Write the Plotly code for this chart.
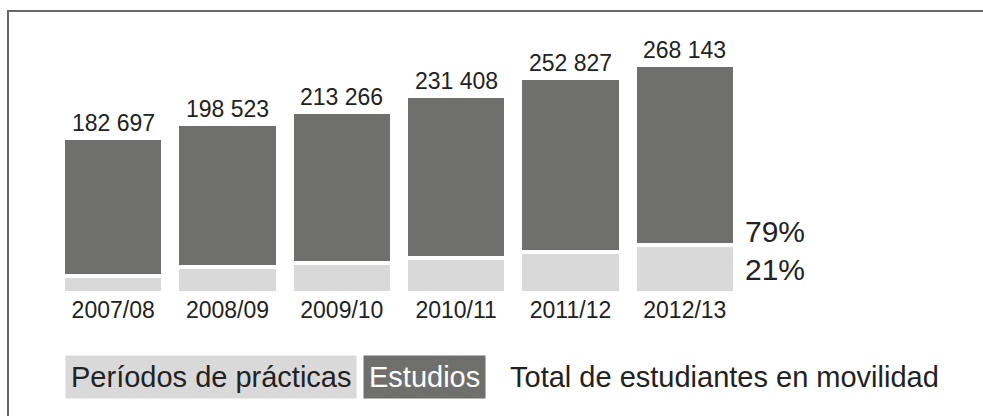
import plotly.graph_objects as go

years = ["2007/08", "2008/09", "2009/10", "2010/11", "2011/12", "2012/13"]
totals = [182697, 198523, 213266, 231408, 252827, 268143]
practicas = [20000, 30000, 35600, 40900, 48300, 56100]
estudios = [t - p for t, p in zip(totals, practicas)]
share_labels = ["79%", "21%"]
legend_labels = ["Períodos de prácticas", "Estudios", "Total de estudiantes en movilidad"]

DARK = "#6f6f6d"
LIGHT = "#d9d9d9"
TEXT = "#222222"
FONT = "Liberation Sans, Arial, sans-serif"

W, H = 983, 416
ML, MR, MT, MB = 56, 241, 20, 123
PW, PH = W - ML - MR, H - MT - MB
YMAX = 321000


def px_x(x):
    return (x - ML) / PW


def px_y(y):
    return (H - MB - y) / PH


fig = go.Figure()
fig.add_trace(go.Bar(x=years, y=practicas, name=legend_labels[0],
                     marker=dict(color=LIGHT, line=dict(color="white", width=4)),
                     hoverinfo="skip"))
fig.add_trace(go.Bar(x=years, y=estudios, name=legend_labels[1],
                     marker=dict(color=DARK, line=dict(color="white", width=4)),
                     hoverinfo="skip"))

annotations = []
for yr, t in zip(years, totals):
    annotations.append(dict(x=yr, y=t, xref="x", yref="y", text=f"{t:,}".replace(",", " "),
                            showarrow=False, yanchor="bottom", xanchor="center", yshift=0,
                            font=dict(size=23, color=TEXT, family=FONT)))

annotations.append(dict(x=1, y=practicas[-1], xref="paper", yref="y", text=share_labels[0],
                        showarrow=False, xanchor="left", yanchor="bottom", xshift=1, yshift=-5,
                        font=dict(size=30, color=TEXT, family=FONT)))
annotations.append(dict(x=1, y=practicas[-1] / 2, xref="paper", yref="y", text=share_labels[1],
                        showarrow=False, xanchor="left", yanchor="middle", xshift=1,
                        font=dict(size=30, color=TEXT, family=FONT)))

leg_y = px_y(377)
annotations.append(dict(x=px_x(65), y=leg_y, xref="paper", yref="paper", text=legend_labels[0],
                        showarrow=False, xanchor="left", yanchor="middle", bgcolor=LIGHT, borderpad=5,
                        font=dict(size=29, color=TEXT, family=FONT)))
annotations.append(dict(x=px_x(363), y=leg_y, xref="paper", yref="paper", text=legend_labels[1],
                        showarrow=False, xanchor="left", yanchor="middle", bgcolor=DARK, borderpad=5,
                        font=dict(size=29, color="white", family=FONT)))
annotations.append(dict(x=px_x(504), y=leg_y, xref="paper", yref="paper", text=legend_labels[2],
                        showarrow=False, xanchor="left", yanchor="middle", borderpad=5,
                        font=dict(size=29, color=TEXT, family=FONT)))

shapes = [dict(type="rect", xref="paper", yref="paper",
               x0=px_x(8), x1=px_x(1100), y0=px_y(500), y1=px_y(11),
               line=dict(color="#666666", width=2), fillcolor="rgba(0,0,0,0)", layer="below")]

fig.update_layout(
    width=W, height=H,
    margin=dict(l=ML, r=MR, t=MT, b=MB, pad=0),
    barmode="stack", bargap=0.125,
    showlegend=False,
    plot_bgcolor="white", paper_bgcolor="white",
    font=dict(family=FONT, color=TEXT),
    annotations=annotations, shapes=shapes,
    xaxis=dict(showgrid=False, zeroline=False, showline=False, ticks="",
               tickfont=dict(size=23, color=TEXT, family=FONT), range=[-0.5, 5.5],
               ticklabelstandoff=1),
    yaxis=dict(visible=False, range=[0, YMAX], showgrid=False, zeroline=False),
)

fig.write_html("out.html", config={"displayModeBar": False})
